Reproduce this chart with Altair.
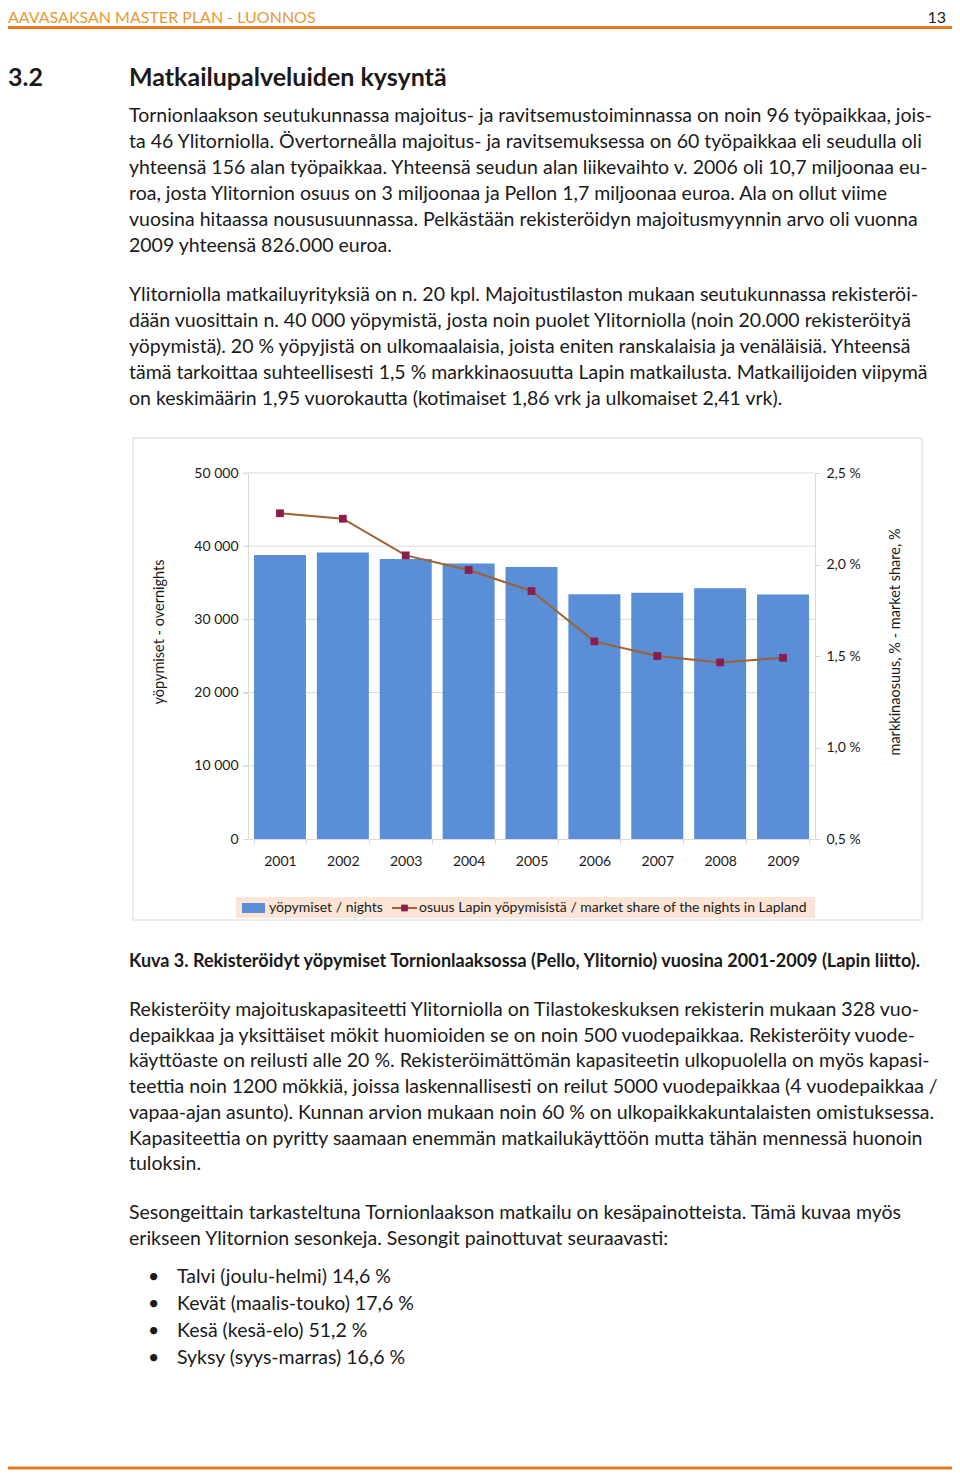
import altair as alt
import pandas as pd

# ---------------- data ----------------
years = ["2001", "2002", "2003", "2004", "2005", "2006", "2007", "2008", "2009"]
nights = [38800, 39150, 38250, 37650, 37150, 33450, 33650, 34250, 33400]
share = [2.28, 2.25, 2.05, 1.97, 1.855, 1.58, 1.50, 1.465, 1.49]
left_ticks = [0, 10000, 20000, 30000, 40000, 50000]
right_ticks = [0.5, 1.0, 1.5, 2.0, 2.5]

header_text = "AAVASAKSAN MASTER PLAN - LUONNOS"
page_no = "13"
heading_no = "3.2"
heading = "Matkailupalveluiden kysyntä"

para1 = [
    "Tornionlaakson seutukunnassa majoitus- ja ravitsemustoiminnassa on noin 96 työpaikkaa, jois-",
    "ta 46 Ylitorniolla.  Övertorneålla majoitus- ja ravitsemuksessa on 60 työpaikkaa eli seudulla oli",
    "yhteensä 156 alan työpaikkaa.  Yhteensä seudun alan liikevaihto v. 2006 oli 10,7 miljoonaa eu-",
    "roa, josta Ylitornion osuus on 3 miljoonaa ja Pellon 1,7 miljoonaa euroa.  Ala on ollut viime",
    "vuosina hitaassa noususuunnassa. Pelkästään rekisteröidyn majoitusmyynnin arvo oli vuonna",
    "2009 yhteensä 826.000 euroa.",
]
para2 = [
    "Ylitorniolla matkailuyrityksiä on n. 20 kpl.  Majoitustilaston mukaan seutukunnassa rekisteröi-",
    "dään vuosittain n. 40 000 yöpymistä, josta noin puolet Ylitorniolla (noin 20.000 rekisteröityä",
    "yöpymistä).  20 % yöpyjistä on ulkomaalaisia, joista eniten ranskalaisia ja venäläisiä. Yhteensä",
    "tämä tarkoittaa suhteellisesti 1,5 % markkinaosuutta Lapin matkailusta. Matkailijoiden viipymä",
    "on keskimäärin 1,95 vuorokautta (kotimaiset 1,86 vrk ja ulkomaiset 2,41 vrk).",
]
caption = "Kuva 3. Rekisteröidyt yöpymiset Tornionlaaksossa (Pello, Ylitornio) vuosina 2001-2009 (Lapin liitto)."
para3 = [
    "Rekisteröity majoituskapasiteetti Ylitorniolla on Tilastokeskuksen rekisterin mukaan 328 vuo-",
    "depaikkaa ja yksittäiset mökit huomioiden se on noin 500 vuodepaikkaa. Rekisteröity vuode-",
    "käyttöaste on reilusti alle 20 %. Rekisteröimättömän kapasiteetin ulkopuolella on myös kapasi-",
    "teettia noin 1200 mökkiä, joissa laskennallisesti on reilut 5000 vuodepaikkaa (4 vuodepaikkaa /",
    "vapaa-ajan asunto). Kunnan arvion mukaan noin 60 % on ulkopaikkakuntalaisten omistuksessa.",
    "Kapasiteettia on pyritty saamaan enemmän matkailukäyttöön mutta tähän mennessä huonoin",
    "tuloksin.",
]
para4 = [
    "Sesongeittain tarkasteltuna Tornionlaakson matkailu on kesäpainotteista. Tämä kuvaa myös",
    "erikseen Ylitornion sesonkeja. Sesongit painottuvat seuraavasti:",
]
bullets = [
    "Talvi (joulu-helmi) 14,6 %",
    "Kevät (maalis-touko) 17,6 %",
    "Kesä (kesä-elo) 51,2 %",
    "Syksy (syys-marras) 16,6 %",
]
y_title_left = "yöpymiset - overnights"
y_title_right = "markkinaosuus, % - market share, %"
legend_bar = "yöpymiset / nights"
legend_line = "osuus Lapin yöpymisistä / market share of the nights in Lapland"

# ---------------- styles ----------------
FONT = "Lato"
W, H = 944, 1462
BODY = 19.5
CH = 14
TXT = "#1a1a1a"
BAR = "#5A8ED6"
LINE = "#A0612E"
MARK = "#8B1C4B"
GRID = "#D9D9D9"
ORANGE = "#E8761E"

df = pd.DataFrame({"year": years, "nights": nights, "share": share})
one = pd.DataFrame({"k": [0]})

xscale = alt.Scale(domain=years, range=[240, 807], paddingInner=0.173, paddingOuter=0.095)
yL = alt.Scale(domain=[0, 50000], range=[831, 465], nice=False, zero=True)
yR = alt.Scale(domain=[0.5, 2.5], range=[831, 465], nice=False, zero=False)


def txt(text, x, y, size=BODY, weight="normal", color=TXT, align="left",
        baseline="alphabetic", angle=0, lh=26):
    props = dict(font=FONT, fontSize=size, fontWeight=weight, color=color,
                 align=align, baseline=baseline, lineHeight=lh)
    if angle:
        props["angle"] = angle
    return alt.Chart(one).mark_text(**props).encode(
        x=alt.value(x), y=alt.value(y), text=alt.value(text))


def hline(x1, x2, y, color, width):
    return alt.Chart(one).mark_rule(color=color, strokeWidth=width).encode(
        x=alt.value(x1), x2=alt.value(x2), y=alt.value(y))


def box(x1, x2, y1, y2, fill, stroke=None):
    props = dict(fill=fill)
    if stroke:
        props.update(stroke=stroke, strokeWidth=1, fillOpacity=0)
    return alt.Chart(one).mark_rect(**props).encode(
        x=alt.value(x1), x2=alt.value(x2), y=alt.value(y1), y2=alt.value(y2))


layers_back = [
    txt(header_text, 0, 15, size=16, color="#E59A35"),
    txt(page_no, 938, 15, size=16, align="right"),
    hline(0, 944, 19.5, ORANGE, 3),
    txt(heading_no, 0, 78, size=25, weight="bold"),
    txt(heading, 121, 78, size=25, weight="bold"),
    txt(para1, 121, 114),
    txt(para2, 121, 293),
    txt(caption, 121, 959, size=18, weight="bold"),
    txt(para3, 121, 1008, lh=25.7),
    txt(para4, 121, 1211),
    txt(["•"] * len(bullets), 140, 1275, lh=27),
    txt(bullets, 169, 1275, lh=27),
    hline(0, 944, 1460, ORANGE, 3),
    box(125, 914, 430, 912, "#ffffff", GRID),
    box(228, 807, 889, 910, "#FBE5D6"),
]
layers_front = [
    box(234, 257, 895, 905, BAR),
    hline(384, 409, 900, LINE, 2),
    alt.Chart(one).mark_square(color=MARK, size=45, opacity=1).encode(
        x=alt.value(396.5), y=alt.value(900)),
    txt(legend_bar, 261, 900, size=CH, baseline="middle"),
    txt(legend_line, 411, 900, size=CH, baseline="middle"),
    txt(y_title_left, 152, 624, size=14.5, baseline="middle", align="center", angle=270),
    txt(y_title_right, 888, 634, size=14.5, baseline="middle", align="center", angle=270),
]

grid = alt.Chart(pd.DataFrame({"g": left_ticks[1:]})).mark_rule(
    color=GRID, strokeWidth=1).encode(
    y=alt.Y("g:Q", scale=yL, axis=None),
    x=alt.value(235), x2=alt.value(807))

bars = alt.Chart(df).mark_bar(color=BAR).encode(
    x=alt.X("year:N", scale=xscale, sort=years, title=None,
            axis=alt.Axis(orient="bottom", offset=-(H - 831), labelAngle=0,
                          tickBand="extent", tickSize=5, tickColor=GRID,
                          domainColor=GRID, labelPadding=10, labelFont=FONT,
                          labelFontSize=CH, labelColor=TXT, grid=False, zindex=1)),
    y=alt.Y("nights:Q", scale=yL, title=None,
            axis=alt.Axis(orient="left", offset=-240, values=left_ticks,
                          labelExpr="replace(format(datum.value, ','), ',', ' ')",
                          tickSize=5, tickColor=GRID, domainColor=GRID,
                          labelPadding=5, labelFont=FONT, labelFontSize=CH,
                          labelColor=TXT, grid=False, zindex=1)),
)

line = alt.Chart(df).mark_line(color=LINE, strokeWidth=2).encode(
    x=alt.X("year:N", scale=xscale, sort=years),
    y=alt.Y("share:Q", scale=yR, axis=None),
)

points = alt.Chart(df).mark_square(color=MARK, size=60, opacity=1).encode(
    x=alt.X("year:N", scale=xscale, sort=years),
    y=alt.Y("share:Q", scale=yR, title=None,
            axis=alt.Axis(orient="right", offset=-(W - 807), values=right_ticks,
                          labelExpr="replace(format(datum.value, '.1f'), '.', ',') + ' %'",
                          tickSize=5, tickColor=GRID, domainColor=GRID,
                          labelPadding=6, labelFont=FONT, labelFontSize=CH,
                          labelColor=TXT, grid=False, zindex=1)),
)

chart = alt.layer(*layers_back, grid, bars, line, points, *layers_front).resolve_scale(
    y="independent"
).properties(
    width=W, height=H, autosize=alt.AutoSizeParams(type="none"), padding=0
).configure_view(stroke=None)

chart.save("out.html", embed_options={"renderer": "svg", "actions": False})
